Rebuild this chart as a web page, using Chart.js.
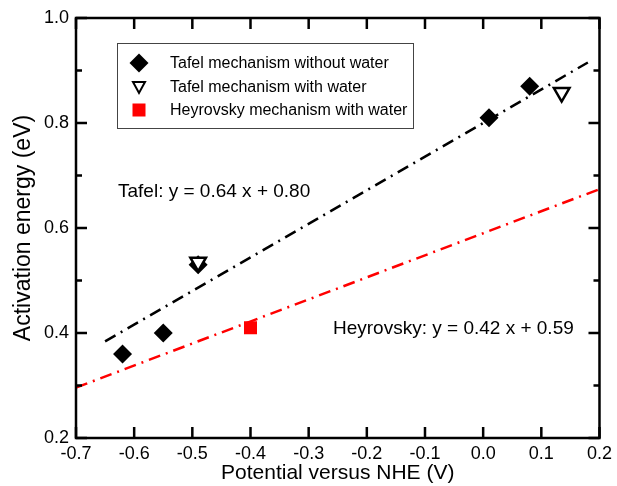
<!doctype html>
<html>
<head>
  <meta charset="utf-8">
  <title>Activation energy vs potential</title>
  <script src="https://cdn.jsdelivr.net/npm/chart.js"></script>
  <style>
    html, body { margin: 0; padding: 0; background: #fff; }
    #wrap { width: 617px; height: 486px; }
  </style>
</head>
<body>
  <div id="wrap"><canvas id="chart" width="617" height="486"></canvas></div>
  <script>
    // measured points, x = potential vs NHE (V), y = activation energy (eV)
    const tafelDryX = [-0.62, -0.55, -0.49, 0.01, 0.08];
    const tafelDryY = [0.36, 0.40, 0.53, 0.81, 0.87];
    const tafelWetX = [-0.49, 0.135];
    const tafelWetY = [0.535, 0.858];
    const heyrX = [-0.40];
    const heyrY = [0.41];

    // linear fits
    const tafelFitX = [-0.65, 0.18];
    const tafelFitY = [0.64 * -0.65 + 0.80, 0.64 * 0.18 + 0.80];
    const heyrFitX = [-0.7, 0.2];
    const heyrFitY = [0.42 * -0.7 + 0.59, 0.42 * 0.2 + 0.59];

    const xTicks = [-0.7, -0.6, -0.5, -0.4, -0.3, -0.2, -0.1, 0.0, 0.1, 0.2];
    const yMajor = [0.2, 0.4, 0.6, 0.8, 1.0];
    const yMinor = [0.3, 0.5, 0.7, 0.9];

    const legendItems = [
      { label: 'Tafel mechanism without water', style: 'diamond' },
      { label: 'Tafel mechanism with water', style: 'tri' },
      { label: 'Heyrovsky mechanism with water', style: 'square' }
    ];
    const notes = [
      { text: 'Tafel: y = 0.64 x + 0.80', x: 118, y: 197 },
      { text: 'Heyrovsky: y = 0.42 x + 0.59', x: 333, y: 334 }
    ];

    const pts = (xs, ys) => xs.map((x, i) => ({ x: x, y: ys[i] }));
    const FONT = 'Liberation Sans, Arial, Helvetica, sans-serif';

    const frame = {
      id: 'frame',
      afterDraw(chart) {
        const ctx = chart.ctx;
        const a = chart.chartArea;
        const xs = chart.scales.x, ys = chart.scales.y;
        ctx.save();
        ctx.strokeStyle = '#000';
        ctx.lineWidth = 2.5;
        ctx.beginPath();
        xTicks.forEach(v => {
          const px = xs.getPixelForValue(v);
          ctx.moveTo(px, a.bottom); ctx.lineTo(px, a.bottom - 11);
          ctx.moveTo(px, a.top); ctx.lineTo(px, a.top + 11);
        });
        yMajor.forEach(v => {
          const py = ys.getPixelForValue(v);
          ctx.moveTo(a.left, py); ctx.lineTo(a.left + 11, py);
          ctx.moveTo(a.right, py); ctx.lineTo(a.right - 11, py);
        });
        yMinor.forEach(v => {
          const py = ys.getPixelForValue(v);
          ctx.moveTo(a.left, py); ctx.lineTo(a.left + 6, py);
          ctx.moveTo(a.right, py); ctx.lineTo(a.right - 6, py);
        });
        ctx.stroke();
        ctx.strokeRect(a.left, a.top, a.right - a.left, a.bottom - a.top);

        // legend box
        ctx.lineWidth = 1;
        ctx.strokeStyle = '#444';
        ctx.strokeRect(117.5, 43.5, 296, 85);
        const rows = [63, 87, 110];
        ctx.font = '16px ' + FONT;
        ctx.textBaseline = 'middle';
        ctx.fillStyle = '#000';
        legendItems.forEach((it, i) => {
          const cx = 139, cy = rows[i];
          ctx.beginPath();
          if (it.style === 'diamond') {
            ctx.fillStyle = '#000';
            ctx.moveTo(cx, cy - 9.5); ctx.lineTo(cx + 9.5, cy);
            ctx.lineTo(cx, cy + 9.5); ctx.lineTo(cx - 9.5, cy);
            ctx.closePath(); ctx.fill();
          } else if (it.style === 'tri') {
            ctx.fillStyle = '#fff';
            ctx.strokeStyle = '#000';
            ctx.lineWidth = 2;
            ctx.moveTo(cx - 6, cy - 5); ctx.lineTo(cx + 6, cy - 5);
            ctx.lineTo(cx, cy + 6); ctx.closePath();
            ctx.fill(); ctx.stroke();
          } else {
            ctx.fillStyle = '#ff0000';
            ctx.fillRect(cx - 6.5, cy - 6.5, 13, 13);
          }
          ctx.fillStyle = '#000';
          ctx.fillText(it.label, 170, cy + 1);
        });

        ctx.font = '19px ' + FONT;
        ctx.textBaseline = 'alphabetic';
        notes.forEach(n => ctx.fillText(n.text, n.x, n.y));
        ctx.restore();
      }
    };

    new Chart(document.getElementById('chart'), {
      type: 'scatter',
      data: {
        datasets: [
          {
            label: 'Tafel mechanism with water',
            data: pts(tafelWetX, tafelWetY),
            pointStyle: 'triangle', rotation: 180, pointRadius: 9,
            backgroundColor: '#fff', borderColor: '#000', borderWidth: 2.5
          },
          {
            label: 'Tafel mechanism without water',
            data: pts(tafelDryX, tafelDryY),
            pointStyle: 'rectRot', pointRadius: 9.5,
            backgroundColor: '#000', borderColor: '#000', borderWidth: 0
          },
          {
            label: 'Heyrovsky mechanism with water',
            data: pts(heyrX, heyrY),
            pointStyle: 'rect', pointRadius: 9.2,
            backgroundColor: '#ff0000', borderColor: '#ff0000', borderWidth: 0
          },
          {
            label: 'Tafel fit',
            data: pts(tafelFitX, tafelFitY),
            showLine: true, pointRadius: 0, borderColor: '#000', borderWidth: 2.5,
            borderDash: [12, 6, 2, 6], fill: false
          },
          {
            label: 'Heyrovsky fit',
            data: pts(heyrFitX, heyrFitY),
            showLine: true, pointRadius: 0, borderColor: '#ff0000', borderWidth: 2.5,
            borderDash: [12, 6, 2, 6], fill: false
          }
        ]
      },
      options: {
        responsive: false,
        animation: false,
        layout: { padding: { left: 0, top: 18, right: 15, bottom: 0 } },
        plugins: { legend: { display: false }, tooltip: { enabled: false } },
        scales: {
          x: {
            type: 'linear', min: -0.7, max: 0.2,
            afterFit: s => { s.height = 48; },
            afterBuildTicks: s => { s.ticks = xTicks.map(v => ({ value: v })); },
            grid: { display: false, drawTicks: false }, border: { display: false },
            ticks: {
              color: '#000', padding: 5, font: { family: FONT, size: 18 },
              maxRotation: 0, autoSkip: false,
              callback: v => (Math.abs(v) < 1e-9 ? 0 : v).toFixed(1)
            },
            title: {
              display: true, text: 'Potential versus NHE (V)', color: '#000',
              font: { family: FONT, size: 21 }, padding: { top: 0, bottom: 0 }
            }
          },
          y: {
            type: 'linear', min: 0.2, max: 1.0,
            afterFit: s => { s.width = 76; },
            afterBuildTicks: s => { s.ticks = yMajor.map(v => ({ value: v })); },
            grid: { display: false, drawTicks: false }, border: { display: false },
            ticks: {
              color: '#000', padding: 7, font: { family: FONT, size: 18 },
              autoSkip: false,
              callback: v => v.toFixed(1)
            },
            title: {
              display: true, text: 'Activation energy (eV)', color: '#000',
              font: { family: FONT, size: 23 }, padding: { top: 10, bottom: 0 }
            }
          }
        }
      },
      plugins: [frame]
    });
  </script>
</body>
</html>
